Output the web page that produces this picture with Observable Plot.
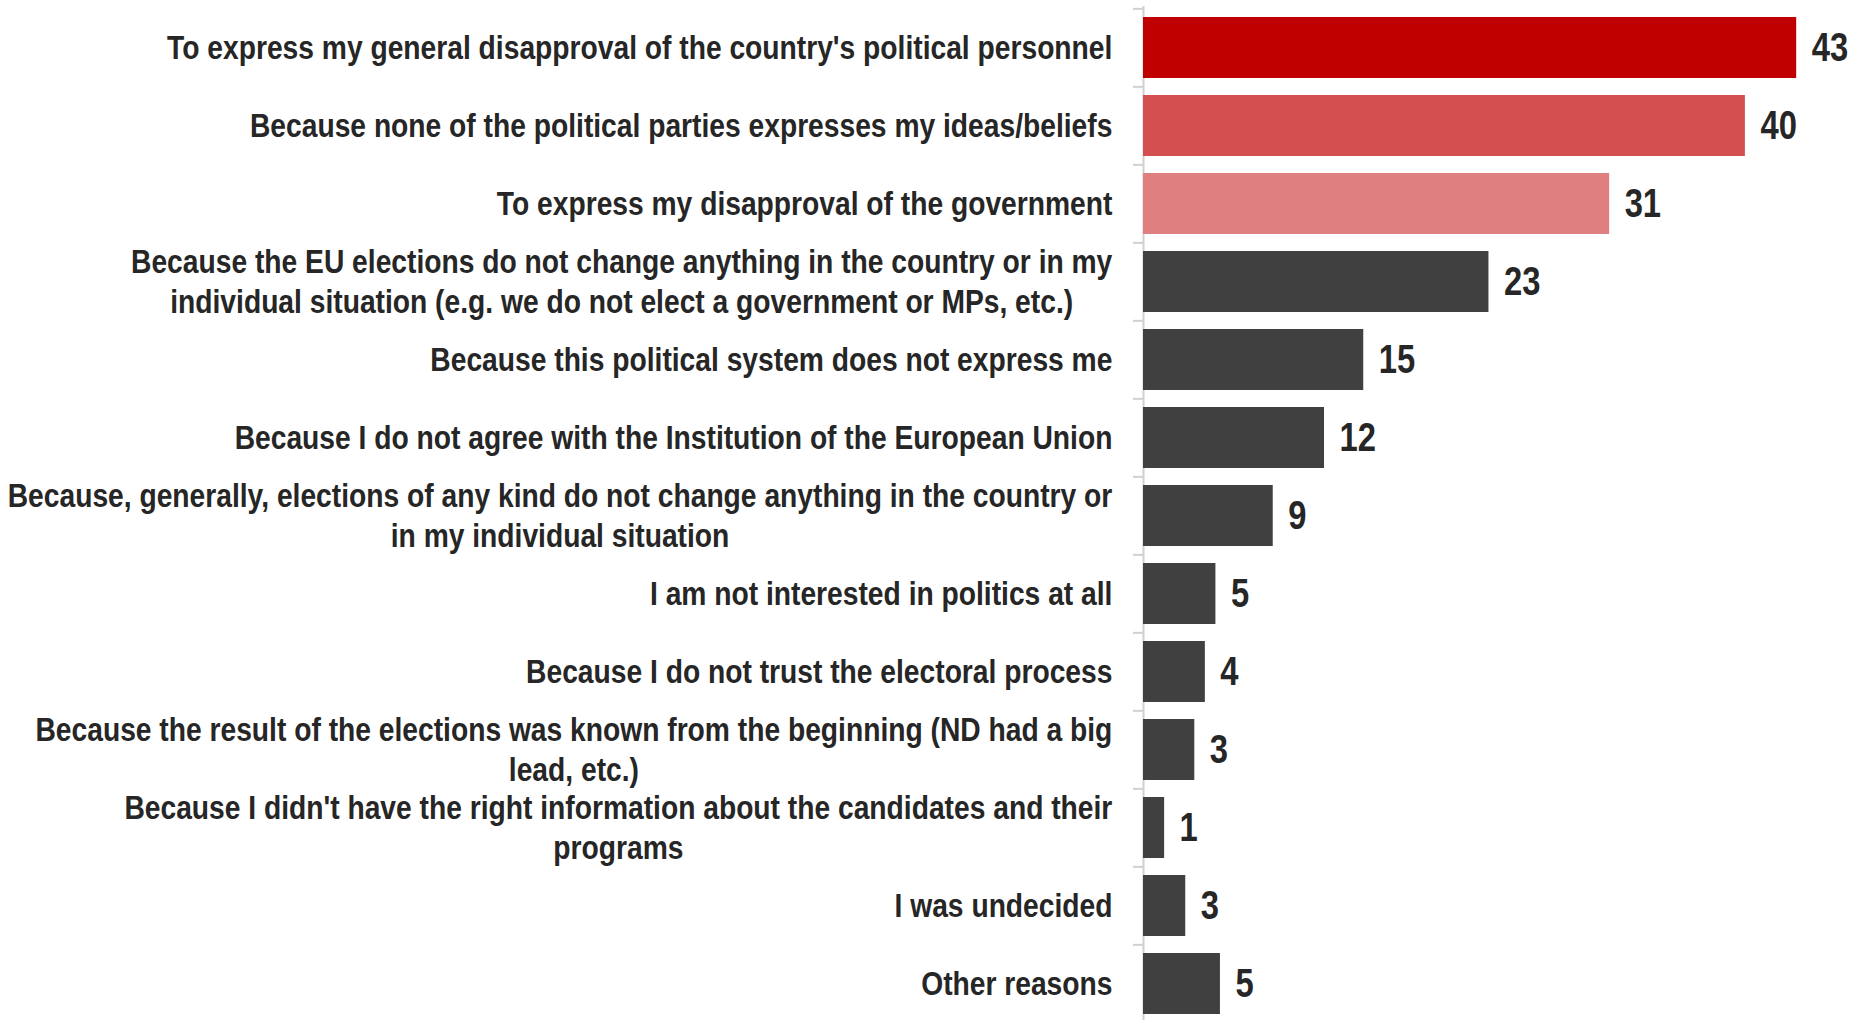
<!DOCTYPE html>
<html><head><meta charset="utf-8">
<script src="https://cdn.jsdelivr.net/npm/d3@7"></script>
<script src="https://cdn.jsdelivr.net/npm/@observablehq/plot@0.6"></script>
<style>
body{margin:0;background:#fff;overflow:hidden}
#chart svg{display:block}
</style>
</head><body><div id="chart"></div>
<script>
const categories = [
  "To express my general disapproval of the country's political personnel",
  "Because none of the political parties expresses my ideas/beliefs",
  "To express my disapproval of the government",
  "Because the EU elections do not change anything in the country or in my\nindividual situation (e.g. we do not elect a government or MPs, etc.)",
  "Because this political system does not express me",
  "Because I do not agree with the Institution of the European Union",
  "Because, generally, elections of any kind do not change anything in the country or\nin my individual situation",
  "I am not interested in politics at all",
  "Because I do not trust the electoral process",
  "Because the result of the elections was known from the beginning (ND had a big\nlead, etc.)",
  "Because I didn't have the right information about the candidates and their\nprograms",
  "I was undecided",
  "Other reasons"
];
const values = [43.3, 39.9, 30.9, 22.9, 14.6, 12.0, 8.6, 4.8, 4.1, 3.4, 1.4, 2.8, 5.1];
const colors = ["#C00000", "#D44F50", "#DF7F7F", "#404040", "#404040", "#404040", "#404040",
                "#404040", "#404040", "#404040", "#404040", "#404040", "#404040"];

const data = categories.map((c, i) => ({category: c, value: values[i], color: colors[i]}));

const FONT = "'Liberation Sans', Arial, sans-serif";
const NARROW_LABEL = 0.83; // emulate a narrow (condensed) face
const NARROW_VALUE = 0.82;
const W = 1855, H = 1020, MT = 6, MB = -4;
const step = (H - MT - MB) / categories.length;

const chart = Plot.plot({
  width: W, height: H,
  marginLeft: 1143, marginRight: 3, marginTop: MT, marginBottom: MB,
  style: {fontFamily: FONT, fontWeight: "bold", color: "#262626", background: "#fff", overflow: "visible"},
  x: {domain: [0, 47], axis: null},
  y: {domain: categories, paddingInner: 0.22, paddingOuter: 0.11, axis: null},
  color: {type: "identity"},
  marks: [
    Plot.axisY({tickSize: 10, tickFormat: () => "", label: null, stroke: "#d0d0d0", strokeWidth: 2, dy: -step / 2}),
    Plot.axisY({tickSize: 0, tickPadding: 31, label: null, fontSize: 34, lineHeight: 1.18, dy: -2, fill: "#262626"}),
    Plot.ruleX([0], {stroke: "#d0d0d0", strokeWidth: 2}),
    Plot.barX(data, {x: "value", y: "category", fill: "color"}),
    Plot.text(data, {x: "value", y: "category", text: d => d3.format(".0f")(d.value),
      dx: 15, textAnchor: "start", fontSize: 40, fill: "#262626"})
  ]
});
document.getElementById("chart").appendChild(chart);

// category labels: narrow the face, centre the lines within a right-aligned block
d3.select(chart).selectAll("g[aria-label='y-axis tick label'] text").each(function () {
  const t = this;
  if (!t.textContent) return;
  const w = t.getBBox().width * NARROW_LABEL;
  t.setAttribute("text-anchor", "middle");
  const tr = t.getAttribute("transform") || "";
  t.setAttribute("transform", tr + ` translate(${-w / 2},0) scale(${NARROW_LABEL},1)`);
});
// value labels: narrow the face
d3.select(chart).selectAll("g[aria-label='text'] text").each(function () {
  const tr = this.getAttribute("transform") || "";
  this.setAttribute("transform", tr + ` scale(${NARROW_VALUE},1)`);
});
</script>
</body></html>
